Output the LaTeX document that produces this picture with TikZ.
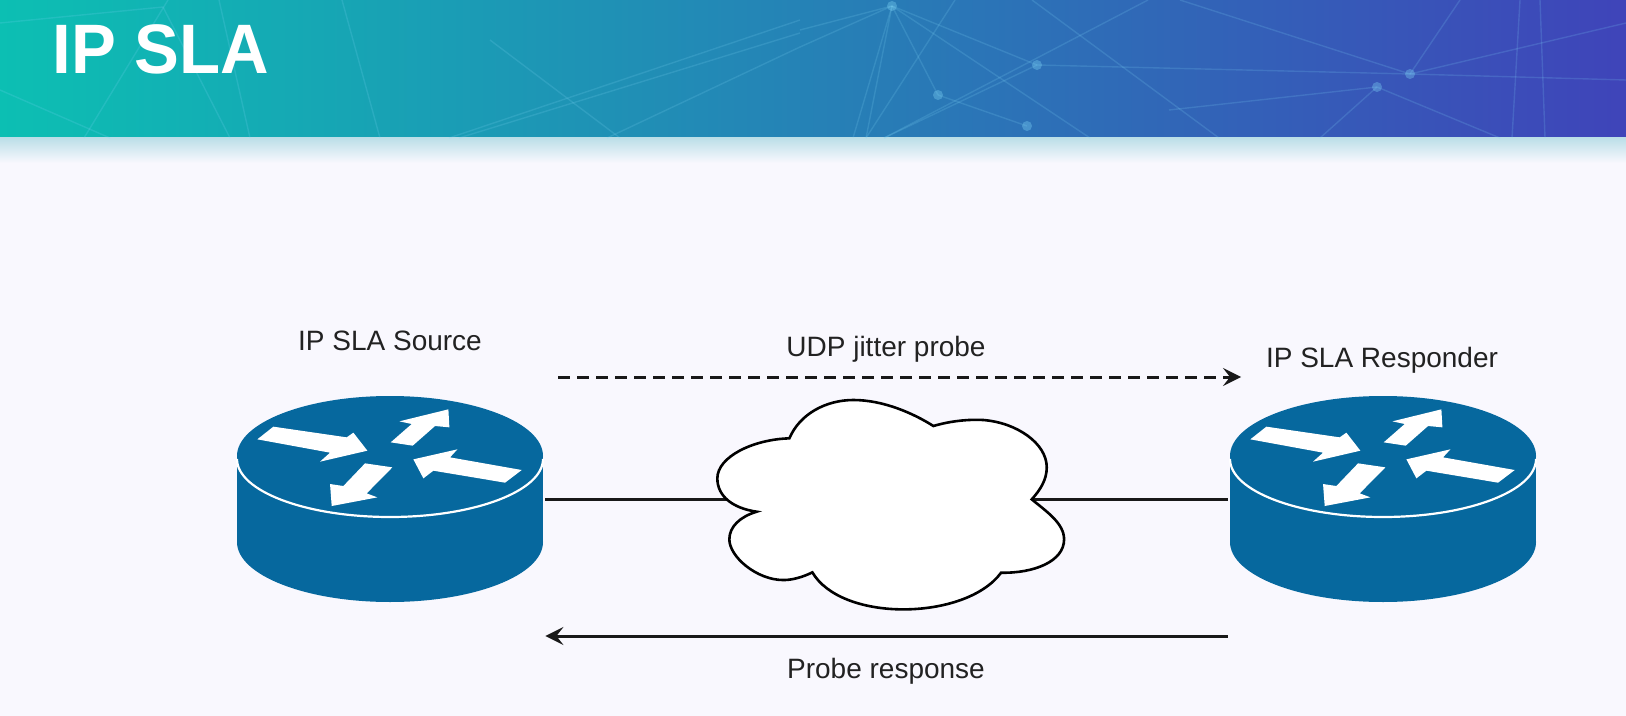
\documentclass[tikz,border=0pt]{standalone}
\usepackage{fontspec}
\setmainfont{Liberation Sans}
\newfontfamily\titlefont[FakeStretch=0.96]{Liberation Sans}
\usetikzlibrary{arrows.meta}
\definecolor{bgpage}{HTML}{F9F8FE}
\definecolor{routerblue}{HTML}{06689E}
\definecolor{barteal}{HTML}{0CBFB3}
\definecolor{barmid}{HTML}{1C90BE}
\definecolor{barblue}{HTML}{3F44B9}
\definecolor{barshadow}{HTML}{BCDFE8}
\definecolor{labelgrey}{HTML}{222222}
\begin{document}
\begin{tikzpicture}[
		x=0.5pt, y=-0.5pt,
		box/.style = {rectangle, minimum width=153pt, minimum height=103pt, inner sep=0},
		gap/.style = {rectangle, minimum width=140pt, minimum height=100pt, inner sep=0},
		lab/.style = {font=\fontsize{14}{16}\selectfont, text=labelgrey, inner sep=0},
		l/.style = {line width=1.5pt, draw=black!90},
		r/.style = {l, -{Stealth[length=9pt, width=9pt, inset=3.5pt]}},
		net/.style = {draw=cyan!50!white, opacity=0.18, line width=0.7pt},
		dot/.style = {fill=cyan!50!white, opacity=0.35},
		router/.pic = {
			\fill[routerblue] (0, 43) ellipse[x radius=153, y radius=60];
			\fill[routerblue] (0, -43) ellipse[x radius=153, y radius=60];
			\fill[routerblue] (-153, -43) rectangle (153, 43);
			\draw[white, line width=1.1pt] (-153, -40) arc[start angle=180, end angle=0, x radius=153, y radius=58];
			\begin{scope}[shift={(-170, -119)}, x=0.1667pt, y=-0.1667pt]
				\fill[white] (112, 178) -- (160, 140) -- (380, 172) -- (400, 158) -- (442, 212) -- (300, 245) -- (330, 218) -- cycle;
				\fill[white] (685, 88) -- (688, 142) -- (645, 138) -- (578, 197) -- (512, 187) -- (575, 132) -- (538, 124) -- cycle;
				\fill[white] (580, 238) -- (712, 208) -- (690, 232) -- (905, 270) -- (855, 308) -- (640, 272) -- (610, 295) -- cycle;
				\fill[white] (335, 378) -- (330, 312) -- (370, 318) -- (435, 250) -- (517, 262) -- (440, 340) -- (472, 352) -- cycle;
			\end{scope}
		},
		]
		\useasboundingbox (0, 0) rectangle (1626, 716);
		
		%Background
		\fill[bgpage] (0, 0) rectangle (1626, 716);
		\shade[left color=barteal, middle color=barmid, right color=barblue] (0, 0) rectangle (1626, 138);
		\shade[top color=barshadow, bottom color=bgpage] (0, 138) rectangle (1626, 163);
		\foreach \xa/\ya/\xb/\yb in {
			800/47/892/6, 800/30/892/6, 892/6/853/138, 892/6/866/138, 955/0/866/138, 1032/0/1219/138,
			1148/0/884/138, 892/6/1037/65, 892/6/938/95, 938/95/1027/126, 1037/65/884/138, 892/6/1090/138,
			1037/65/1410/74, 1410/74/1626/23, 1377/87/1169/110, 1410/74/1626/80, 1377/87/1320/138,
			1410/74/1460/0, 1377/87/1500/138, 1520/0/1512/138, 1540/0/1545/138, 800/20/449/138,
			800/33/459/138, 800/47/607/138, 168/0/84/138, 342/0/380/138, 0/23/163/7,
			219/0/250/138, 0/90/110/138, 163/7/230/138, 490/40/620/138, 1410/74/1180/0} {
			\draw[net] (\xa, \ya) -- (\xb, \yb);
		}
		\foreach \xa/\ya in {892/6, 1037/65, 938/95, 1027/126, 1410/74, 1377/87} {
			\fill[dot] (\xa, \ya) circle (2.5pt);
		}
		
		%Nodes
		\node[box]	(src)	at	(390, 499)	{};
		\node[box]	(rsp)	at	(1383, 499)	{};
		\node[gap]	(cld)	at	(891, 499)	{};
		\coordinate	(udpa)	at	(558, 377);
		\coordinate	(udpb)	at	(1241, 377);
		\coordinate	(back)	at	(886, 636);
		\node[lab]	(srclab)	at	(390, 341)	{IP SLA Source};
		\node[lab]	(rsplab)	at	(1382, 360)	{IP SLA Responder};
		\node[lab]	(udplab)	at	(886, 349)	{UDP jitter probe};
		\node[lab]	(backlab)	at	(886, 671)	{Probe response};
		\node[anchor=west, text=white, inner sep=0, font=\fontsize{35}{40}\selectfont\titlefont\bfseries]	(title)	at	(52, 49)	{IP SLA};
		
		%Lines
		\draw[l, shorten <=1pt]	(src.east)	to	(cld.west);
		\draw[l, shorten >=1pt]	(cld.east)	to	(rsp.west);
		\draw[r, dash pattern=on 6pt off 3.5pt]	(udpa)	to	(udpb);
		\draw[r, shorten <=1pt, shorten >=1pt]	(back -| rsp.west)	to	(back -| src.east);
		
		%Routers
		\pic at (src) {router};
		\pic at (rsp) {router};
		
		%Cloud
		\begin{scope}[shift={(690, 380)}, x=0.1667pt, y=-0.1667pt]
			\draw[fill=white, line width=1.3pt] (298, 175)
				.. controls (330, 100) and (410, 60) .. (490, 60)
				.. controls (580, 60) and (670, 100) .. (730, 138)
				.. controls (790, 120) and (850, 118) .. (880, 120)
				.. controls (980, 128) and (1070, 190) .. (1070, 262)
				.. controls (1070, 300) and (1050, 330) .. (1025, 358)
				.. controls (1070, 395) and (1122, 430) .. (1122, 478)
				.. controls (1122, 545) and (1030, 580) .. (933, 578)
				.. controls (880, 650) and (760, 688) .. (640, 688)
				.. controls (520, 688) and (410, 650) .. (367, 577)
				.. controls (340, 590) and (310, 600) .. (280, 600)
				.. controls (200, 600) and (118, 530) .. (118, 478)
				.. controls (118, 440) and (150, 410) .. (200, 395)
				.. controls (130, 385) and (82, 350) .. (82, 295)
				.. controls (82, 230) and (190, 178) .. cycle;
		\end{scope}
	\end{tikzpicture}
\end{document}
